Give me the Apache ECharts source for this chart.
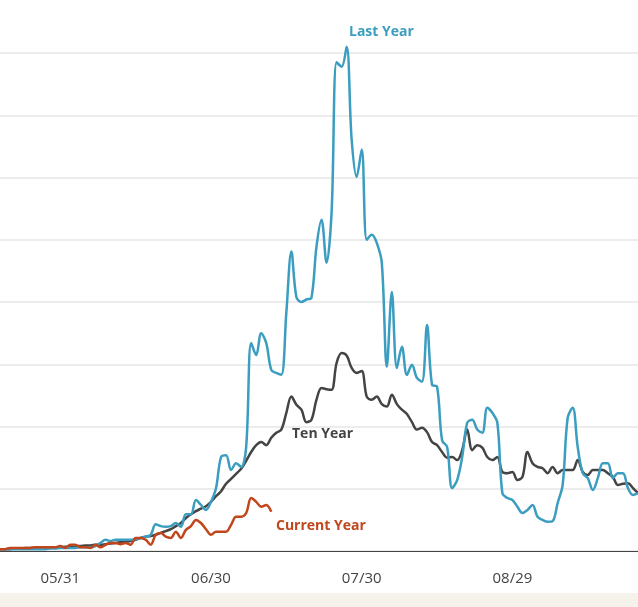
<!DOCTYPE html>
<html>
<head>
<meta charset="utf-8">
<script src="https://cdn.jsdelivr.net/npm/echarts@6/dist/echarts.min.js"></script>
<style>
  html, body { margin: 0; padding: 0; background: #fff; }
  #chart { width: 638px; height: 607px; }
</style>
</head>
<body>
<div id="chart"></div>
<script>
// daily categories 05/19 .. 09/23
const days = [];
(function () {
  const d = new Date(2021, 4, 19);
  const end = new Date(2021, 8, 23);
  while (d <= end) {
    days.push(String(d.getMonth() + 1).padStart(2, '0') + '/' + String(d.getDate()).padStart(2, '0'));
    d.setDate(d.getDate() + 1);
  }
})();

const tickLabels = ['05/31', '06/30', '07/30', '08/29'];

const lastYear = [
  0.3, 0.3, 0.3, 0.3, 0.3, 0.3, 0.3, 0.3, 0.3, 0.3,
  0.4, 0.4, 0.5, 0.5, 0.5, 0.5, 0.6, 0.6, 0.6, 0.8,
  1.3, 1.8, 1.6, 1.8, 1.8, 1.8, 1.8, 1.9, 2.1, 2.3,
  2.6, 4.3, 4.0, 3.9, 4.0, 4.5, 3.9, 5.9, 5.9, 8.2,
  7.4, 6.6, 7.9, 10.1, 15.1, 15.4, 13.0, 14.1, 13.5, 16.7,
  33.4, 31.5, 35.0, 33.4, 29.1, 28.6, 28.3, 38.3, 48.1, 40.8,
  40.0, 40.4, 40.7, 48.9, 53.2, 46.3, 54.3, 78.5, 77.8, 81.0,
  66.1, 60.1, 64.5, 50.0, 50.8, 49.5, 46.3, 29.6, 41.6, 29.4,
  32.8, 28.3, 29.9, 27.8, 27.2, 36.3, 26.7, 26.4, 17.8, 16.7,
  10.1, 11.4, 15.1, 20.6, 21.1, 19.5, 19.0, 23.0, 22.2, 20.6,
  9.3, 8.5, 8.2, 7.1, 6.1, 6.6, 7.4, 5.5, 5.0, 4.7,
  4.8, 7.7, 10.6, 21.4, 23.0, 16.7, 12.5, 11.7, 9.8, 11.7,
  14.1, 14.1, 11.7, 12.5, 12.5, 10.1, 9.0, 9.3
];

const tenYear = [
  0.3, 0.3, 0.3, 0.4, 0.4, 0.5, 0.5, 0.5, 0.6, 0.6,
  0.6, 0.6, 0.6, 0.7, 0.7, 0.8, 0.8, 0.9, 0.9, 1.0,
  1.0, 1.1, 1.2, 1.3, 1.4, 1.5, 1.6, 1.8, 2.1, 2.3,
  2.4, 2.6, 2.9, 3.2, 3.5, 4.0, 4.5, 5.3, 5.9, 6.4,
  6.8, 7.2, 7.9, 8.8, 9.6, 10.8, 11.6, 12.4, 13.2, 14.5,
  15.9, 17.0, 17.5, 17.0, 18.2, 19.0, 19.5, 22.2, 24.8, 23.5,
  22.7, 20.7, 21.1, 24.3, 26.2, 26.0, 25.9, 30.2, 31.8, 31.4,
  29.4, 28.6, 28.9, 24.8, 24.3, 24.8, 23.6, 23.2, 25.1, 23.6,
  22.7, 22.0, 20.7, 19.5, 19.8, 19.1, 17.5, 17.0, 15.9, 15.0,
  15.1, 14.6, 16.2, 19.5, 16.2, 17.0, 16.6, 15.1, 14.6, 15.1,
  12.7, 12.5, 12.7, 11.4, 11.9, 15.9, 14.1, 13.5, 13.3, 12.5,
  13.5, 12.5, 13.0, 13.0, 13.0, 14.6, 12.7, 12.2, 13.0, 13.0,
  13.0, 12.5, 11.9, 10.6, 10.8, 10.9, 10.1, 9.3
];

const currentYear = [
  0.3, 0.3, 0.5, 0.5, 0.5, 0.5, 0.5, 0.6, 0.6, 0.6,
  0.6, 0.6, 0.8, 0.5, 1.0, 1.0, 0.6, 0.6, 0.5, 1.0,
  0.6, 1.0, 1.3, 1.3, 1.1, 1.3, 1.0, 2.1, 2.1, 1.8,
  1.0, 2.6, 2.9, 2.3, 2.1, 3.1, 2.1, 3.4, 4.0, 5.0,
  4.5, 3.5, 2.6, 3.1, 3.1, 3.1, 4.2, 5.5, 5.5, 6.1,
  8.5, 7.9, 7.1, 7.4, 6.3
];

const BLUE = '#3b9dbf';
const DARK = '#444444';
const RUST = '#c2461b';

const chart = echarts.init(document.getElementById('chart'));

function line(name, data, color) {
  return {
    name: name,
    type: 'line',
    data: data,
    smooth: 0.35,
    symbol: 'none',
    clip: false,
    lineStyle: { color: color, width: 2.5 },
    emphasis: { disabled: true }
  };
}

const labelFont = 'bold 14px "Open Sans", sans-serif';

chart.setOption({
  animation: false,
  grid: { left: 0, right: 0, top: 53, bottom: 56 },
  xAxis: {
    type: 'category',
    data: days,
    boundaryGap: false,
    axisTick: { show: false },
    axisLine: { lineStyle: { color: '#444', width: 1 } },
    axisLabel: {
      interval: function (idx, val) { return tickLabels.indexOf(val) >= 0; },
      color: '#444',
      fontSize: 15,
      fontFamily: 'Open Sans',
      margin: 20
    },
    splitLine: { show: false }
  },
  yAxis: {
    type: 'value',
    min: 0,
    max: 80,
    interval: 10,
    axisLabel: { show: false },
    axisLine: { show: false },
    axisTick: { show: false },
    splitLine: { lineStyle: { color: '#e6e6e6', width: 1.5 } }
  },
  series: [
    line('Ten Year', tenYear, DARK),
    line('Last Year', lastYear, BLUE),
    line('Current Year', currentYear, RUST)
  ],
  graphic: [
    { type: 'rect', left: 0, top: 593, shape: { width: 638, height: 14 }, style: { fill: '#f4f2ea' }, silent: true },
    { type: 'text', left: 349, top: 25, style: { text: 'Last Year', font: labelFont, fill: BLUE } },
    { type: 'text', left: 292, top: 427, style: { text: 'Ten Year', font: labelFont, fill: DARK } },
    { type: 'text', left: 276, top: 519, style: { text: 'Current Year', font: labelFont, fill: RUST } }
  ]
});
</script>
</body>
</html>
